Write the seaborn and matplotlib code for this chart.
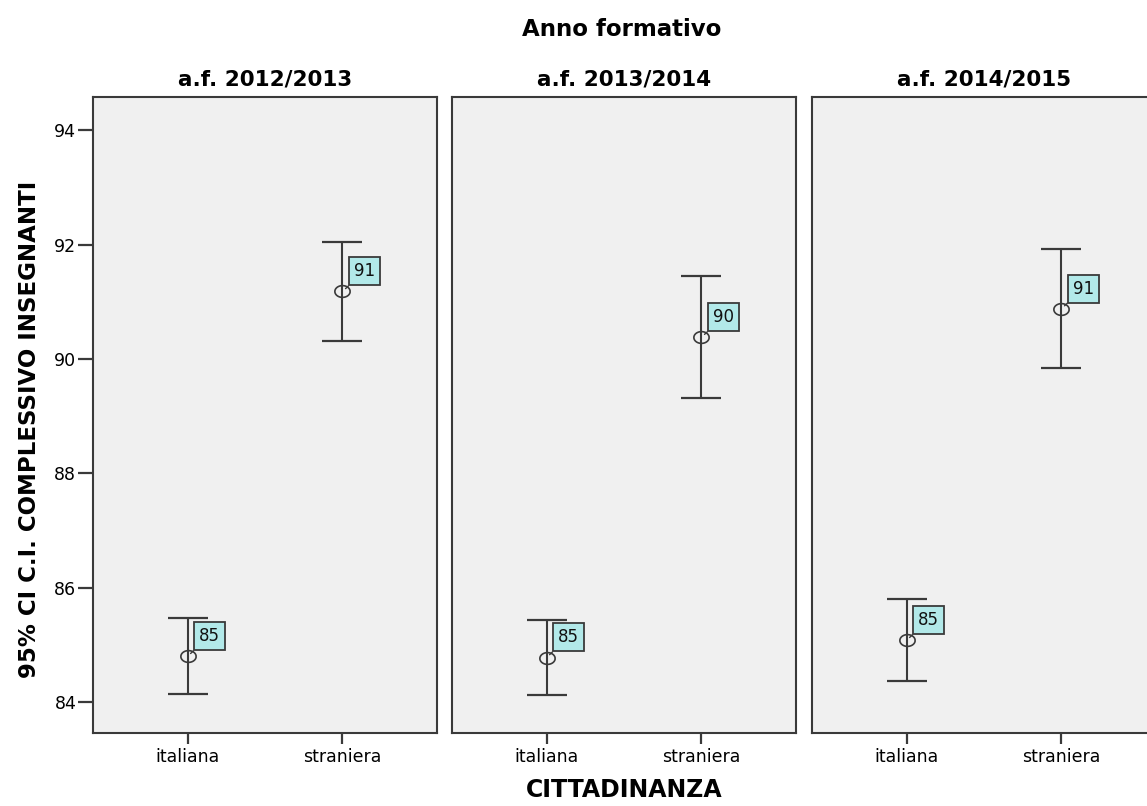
import numpy as np
import pandas as pd
import matplotlib
matplotlib.use('Agg')
import matplotlib.pyplot as plt
from matplotlib.path import Path
import seaborn as sns

# valori (media e IC 95%)
anni = ['a.f. 2012/2013', 'a.f. 2013/2014', 'a.f. 2014/2015']
cittadinanza = ['italiana', 'straniera']
media = [84.80, 91.18, 84.78, 90.38, 85.08, 90.88]
ic_inf = [84.14, 90.31, 84.12, 89.31, 84.37, 89.85]
ic_sup = [85.47, 92.04, 85.43, 91.45, 85.80, 91.92]
y_ticks = [84, 86, 88, 90, 92, 94]

df = pd.DataFrame({
    'anno': np.repeat(anni, len(cittadinanza)),
    'cittadinanza': cittadinanza * len(anni),
    'media': media,
    'inf': ic_inf,
    'sup': ic_sup,
})

sns.set_theme(style='white')
plt.rcParams['font.family'] = ['DejaVu Sans']
plt.rcParams['text.color'] = 'black'
plt.rcParams['xtick.color'] = 'black'
plt.rcParams['ytick.color'] = 'black'

# marker ellittico (come nell'originale SPSS, leggermente schiacciato)
t = np.linspace(0, 2 * np.pi, 60)
ellisse = Path(np.column_stack([1.3 * np.cos(t), np.sin(t)]))

linea = '#3a3a3a'


def disegna_ic(data, **kws):
    ax = plt.gca()
    x = data['cittadinanza'].map({c: i for i, c in enumerate(cittadinanza)}).to_numpy()
    m = data['media'].to_numpy()
    err = [m - data['inf'].to_numpy(), data['sup'].to_numpy() - m]
    ax.errorbar(x, m, yerr=err, fmt='none', ecolor=linea, elinewidth=1.5,
                capsize=14.5, capthick=1.6, zorder=2)
    ax.plot(x, m, ls='none', marker=ellisse, ms=11, mfc='none', mec=linea,
            mew=1.2, zorder=3)
    for xi, mi in zip(x, m):
        ax.annotate(f'{mi:.0f}', (xi, mi), xytext=(8, 8), textcoords='offset points',
                    ha='left', va='bottom', fontsize=12, color='#111111',
                    bbox=dict(boxstyle='square,pad=0.3', fc='#b2e9e9', ec=linea, lw=1.3),
                    arrowprops=dict(arrowstyle='-', color=linea, lw=1, shrinkA=0, shrinkB=3),
                    zorder=4)


g = sns.FacetGrid(df, col='anno', col_order=anni, sharey=True, height=6, aspect=0.6)
g.map_dataframe(disegna_ic)

fig = g.figure
fig.set_size_inches(11.47, 8.06)
fig.set_facecolor('white')

W, H = 1147, 806
lefts = [93, 452, 812]
for ax, l, anno in zip(g.axes.flat, lefts, anni):
    ax.set_position([l / W, 1 - 733 / H, 344 / W, (733 - 97) / H])
    ax.set_facecolor('#f0f0f0')
    ax.set_xlim(-0.61, 1.61)
    ax.set_ylim(83.46, 94.58)
    ax.set_xticks(range(len(cittadinanza)))
    ax.set_xticklabels(cittadinanza, fontsize=12.5)
    ax.set_xlabel('')
    ax.set_ylabel('')
    ax.set_title(anno, fontsize=15.5, fontweight='bold', pad=8)
    for s in ax.spines.values():
        s.set_visible(True)
        s.set_color(linea)
        s.set_linewidth(1.5)
    ax.tick_params(axis='x', direction='out', length=8, width=1.6, color=linea,
                   bottom=True, pad=3)
    ax.tick_params(axis='y', left=False, labelleft=False)

ax0 = g.axes.flat[0]
ax0.set_yticks(y_ticks)
ax0.set_yticklabels([str(v) for v in y_ticks], fontsize=12.5)
ax0.tick_params(axis='y', direction='out', length=11, width=1.6, color=linea,
                left=True, labelleft=True, pad=1)

fig.text(622 / W, 1 - 30 / H, 'Anno formativo', ha='center', va='center',
         fontsize=16.5, fontweight='bold')
fig.text(624 / W, 1 - 790 / H, 'CITTADINANZA', ha='center', va='center',
         fontsize=17, fontweight='bold')
fig.text(30 / W, 1 - 429 / H, '95% CI C.I. COMPLESSIVO INSEGNANTI', ha='center',
         va='center', rotation=90, fontsize=16.5, fontweight='bold')

fig.savefig('out.png', dpi=100)
